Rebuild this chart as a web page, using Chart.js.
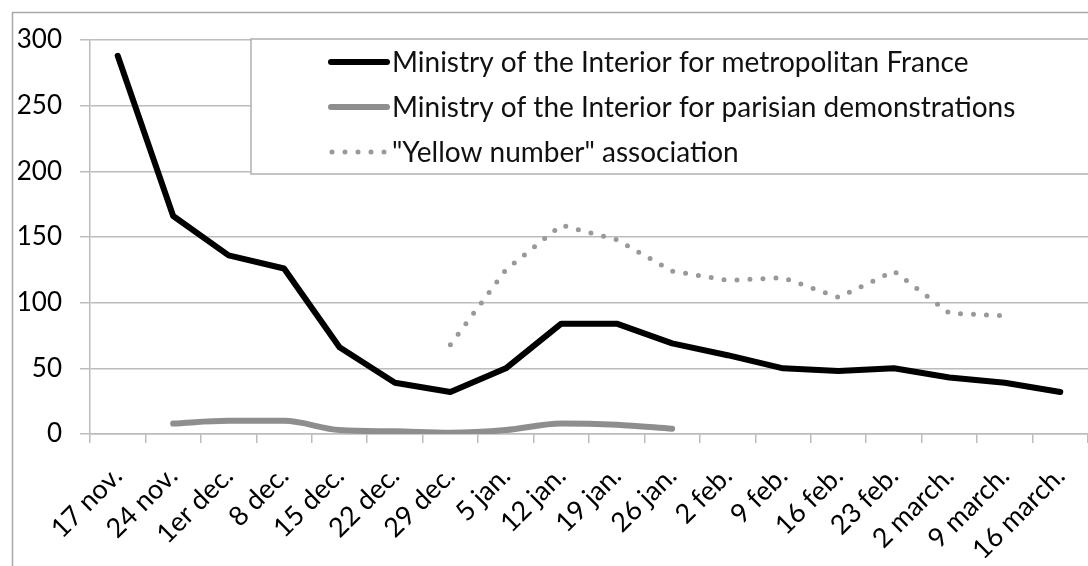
<!DOCTYPE html>
<html>
<head>
<meta charset="utf-8">
<script src="https://cdn.jsdelivr.net/npm/chart.js@4.4.1/dist/chart.umd.min.js"></script>
<style>
  html, body { margin: 0; padding: 0; background: #fff; }
  #wrap { position: relative; width: 1088px; height: 566px; overflow: hidden; }
</style>
</head>
<body>
<div id="wrap"><canvas id="myChart" width="1088" height="566"></canvas></div>
<script>
const weeks = ['17 nov.', '24 nov.', '1er dec.', '8 dec.', '15 dec.', '22 dec.', '29 dec.', '5 jan.', '12 jan.',
    '19 jan.', '26 jan.', '2 feb.', '9 feb.', '16 feb.', '23 feb.', '2 march.', '9 march.', '16 march.'];
const metropolitan = [288, 166, 136, 126, 66, 39, 32, 50, 84, 84, 69, 60, 50, 48, 50, 43, 39, 32];
const parisian = [null, 8, 10, 10, 3, 2, 1, 3, 8, 7, 4, null, null, null, null, null, null, null];
const yellowNumber = [null, null, null, null, null, null, 68, 125, 159, 148, 124, 117, 119, 104, 124, 92, 90, null];
const yTicks = [0, 50, 100, 150, 200, 250, 300];

const FONT = 'Lato';
const GRID = '#bcbcbc';
const ctx = document.getElementById('myChart');

// legend drawn inside the plot, like the excel box
const boxLegend = {
    id: 'boxLegend',
    beforeDraw(chart) {
        const c = chart.ctx;
        c.save();
        c.strokeStyle = '#a8a8a8';
        c.lineWidth = 1.5;
        c.beginPath();
        c.moveTo(12.5, 566);
        c.lineTo(12.5, 12.5);
        c.lineTo(1088, 12.5);
        c.stroke();
        c.restore();
    },
    afterDatasetsDraw(chart) {
        const c = chart.ctx;
        const left = 251, top = 39, bottom = 174;
        c.save();
        c.fillStyle = '#fff';
        c.fillRect(left, top, 1088 - left, bottom - top);
        c.strokeStyle = '#b0b0b0';
        c.lineWidth = 1.5;
        c.strokeRect(left, top, 1088 - left + 5, bottom - top);

        // fit the text size to the width of the first entry
        const first = chart.data.datasets[0].label;
        c.font = `100px ${FONT}`;
        const size = Math.round(100 * 573 / c.measureText(first).width);
        c.font = `${size}px ${FONT}`;
        c.textBaseline = 'middle';
        c.fillStyle = '#111';

        chart.data.datasets.forEach((ds, i) => {
            const y = 62 + i * 45;
            c.beginPath();
            c.strokeStyle = ds.borderColor;
            c.lineWidth = ds.borderWidth;
            c.lineCap = 'round';
            c.setLineDash(ds.borderDash || []);
            c.moveTo(ds.borderDash ? 332 : 331, y);
            c.lineTo(ds.borderDash ? 386 : 387, y);
            c.stroke();
            c.setLineDash([]);
            c.fillText(ds.label, 392, y + 1);
        });
        c.restore();
    }
};

new Chart(ctx, {
    type: 'line',
    data: {
        labels: weeks,
        datasets: [{
            label: 'Ministry of the Interior for metropolitan France',
            data: metropolitan,
            borderColor: '#000',
            borderWidth: 6,
            borderJoinStyle: 'round',
            borderCapStyle: 'round',
            pointRadius: 0,
            tension: 0
        }, {
            label: 'Ministry of the Interior for parisian demonstrations',
            data: parisian,
            borderColor: '#8e8e8e',
            borderWidth: 6,
            borderJoinStyle: 'round',
            borderCapStyle: 'round',
            pointRadius: 0,
            cubicInterpolationMode: 'monotone'
        }, {
            label: '"Yellow number" association',
            data: yellowNumber,
            borderColor: '#999',
            borderWidth: 5,
            borderDash: [0, 13],
            borderCapStyle: 'round',
            borderJoinStyle: 'round',
            pointRadius: 0,
            tension: 0
        }]
    },
    options: {
        responsive: false,
        animation: false,
        events: [],
        layout: { padding: { top: 40, left: 0, right: 0, bottom: 0 } },
        plugins: {
            legend: { display: false },
            tooltip: { enabled: false }
        },
        scales: {
            x: {
                offset: true,
                grid: {
                    offset: true,
                    drawOnChartArea: false,
                    color: GRID,
                    lineWidth: 1.5,
                    tickLength: 9
                },
                border: { color: GRID, width: 1.5 },
                ticks: {
                    autoSkip: false,
                    minRotation: 45,
                    maxRotation: 45,
                    padding: 17,
                    color: '#000',
                    font: { family: FONT, size: 27 }
                },
                afterFit: (scale) => {
                    scale.height = 132;
                    scale.paddingLeft = 0;
                    scale.paddingRight = 0;
                }
            },
            y: {
                min: 0,
                max: 300,
                afterBuildTicks: (scale) => { scale.ticks = yTicks.map(v => ({ value: v })); },
                grid: {
                    color: GRID,
                    lineWidth: 1.5,
                    tickLength: 10
                },
                border: { color: GRID, width: 1.5 },
                ticks: {
                    padding: 18,
                    color: '#000',
                    font: { family: FONT, size: 26 }
                },
                afterFit: (scale) => { scale.width = 90; }
            }
        }
    },
    plugins: [boxLegend]
});
</script>
</body>
</html>
